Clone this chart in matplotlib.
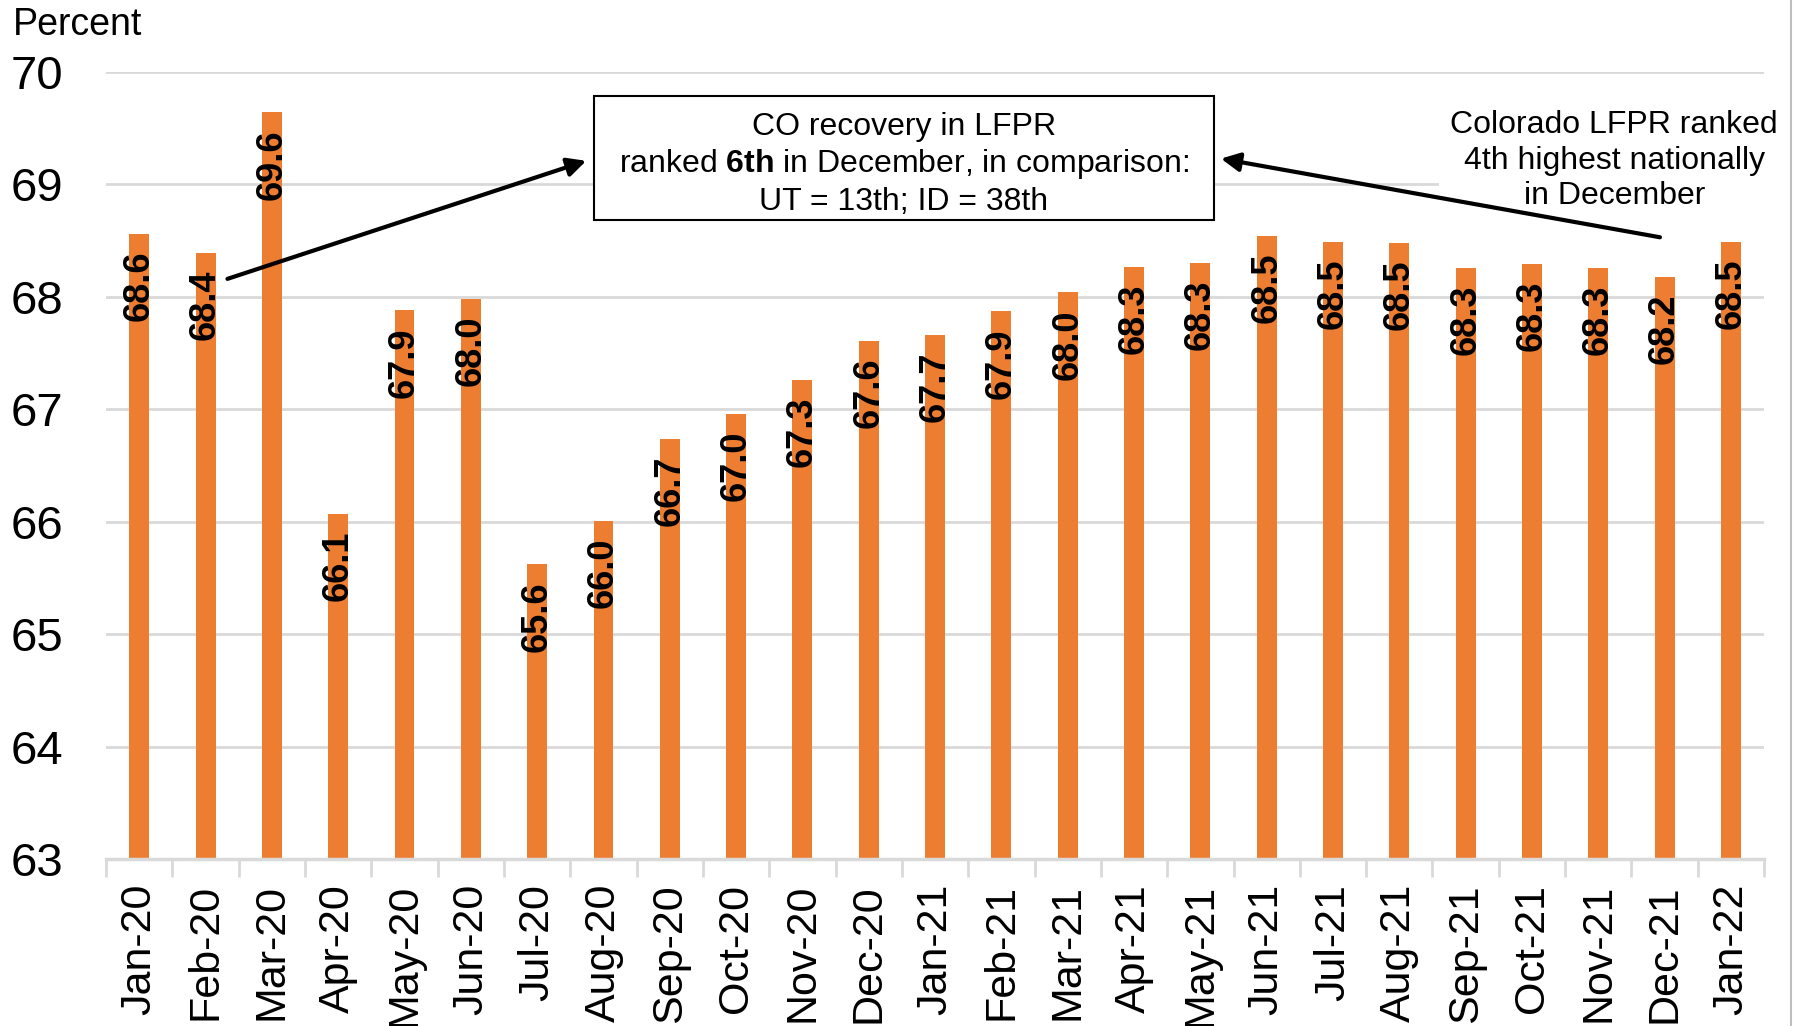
import matplotlib
matplotlib.use('Agg')
import matplotlib.pyplot as plt
from matplotlib.lines import Line2D
from matplotlib.patches import Rectangle

plt.rcParams['font.family'] = ['Liberation Sans', 'DejaVu Sans']
plt.rcParams['mathtext.fontset'] = 'custom'
plt.rcParams['mathtext.rm'] = 'Liberation Sans'
plt.rcParams['mathtext.bf'] = 'Liberation Sans:bold'

# monthly Colorado LFPR, percent
months = ['Jan-20', 'Feb-20', 'Mar-20', 'Apr-20', 'May-20', 'Jun-20', 'Jul-20',
          'Aug-20', 'Sep-20', 'Oct-20', 'Nov-20', 'Dec-20', 'Jan-21', 'Feb-21',
          'Mar-21', 'Apr-21', 'May-21', 'Jun-21', 'Jul-21', 'Aug-21', 'Sep-21',
          'Oct-21', 'Nov-21', 'Dec-21', 'Jan-22']
lfpr = [68.56, 68.39, 69.64, 66.07, 67.88, 67.98, 65.62, 66.01, 66.74, 66.96,
        67.26, 67.61, 67.66, 67.87, 68.04, 68.27, 68.30, 68.54, 68.49, 68.48,
        68.26, 68.29, 68.26, 68.18, 68.49]
yticks = [63, 64, 65, 66, 67, 68, 69, 70]

bar_color = '#ED7D31'
grid_color = '#D9D9D9'

fig = plt.figure(figsize=(18.01, 10.26), dpi=100)
ax = fig.add_axes([0.0589, 0.1628, 0.9206, 0.767])

x = list(range(len(months)))
ax.bar(x, lfpr, width=0.3, color=bar_color, zorder=2)
ax.set_ylim(63, 70)
ax.set_xlim(-0.5, len(months) - 0.5)

# value labels inside the bar ends
for xi, v in zip(x, lfpr):
    ax.annotate(f'{v:.1f}', xy=(xi, v), xytext=(0, -12), textcoords='offset points',
                rotation=90, ha='center', va='top', fontsize=26,
                fontweight='bold', color='black', zorder=3)

ax.set_yticks(yticks)
ax.set_yticklabels([str(t) for t in yticks], fontsize=34)
ax.tick_params(axis='y', length=0, pad=31)
ax.yaxis.grid(True, color=grid_color, linewidth=2, zorder=0)
ax.set_axisbelow(True)

ax.set_xticks(x)
ax.set_xticklabels(months, rotation=90, fontsize=31)
ax.tick_params(axis='x', which='major', length=0, pad=18)
ax.set_xticks([i - 0.5 for i in range(len(months) + 1)], minor=True)
ax.tick_params(axis='x', which='minor', length=13, width=2, color=grid_color)

for side in ['top', 'right', 'left']:
    ax.spines[side].set_visible(False)
ax.spines['bottom'].set_color(grid_color)
ax.spines['bottom'].set_linewidth(2.5)

fig.text(0.007, 0.976, 'Percent', fontsize=27, ha='left', va='center')

# annotation box
ax.add_patch(Rectangle((6.86, 68.68), 9.35, 1.11, facecolor='white',
                       edgecolor='black', linewidth=1.5, zorder=4))
ax.text(11.53, 69.18,
        'CO recovery in LFPR\nranked $\\mathbf{6th}$ in December, in comparison:\nUT = 13th; ID = 38th',
        ha='center', va='center', fontsize=23, linespacing=1.23, zorder=5)

ax.text(22.24, 69.21, 'Colorado LFPR ranked\n4th highest nationally\nin December',
        ha='center', va='center', fontsize=23, linespacing=1.24, zorder=5,
        bbox=dict(facecolor='white', edgecolor='none', pad=8))

arrow = dict(arrowstyle='-|>', color='black', lw=3, mutation_scale=28,
             shrinkA=0, shrinkB=0)
ax.annotate('', xy=(6.74, 69.21), xytext=(1.33, 68.16), arrowprops=arrow, zorder=6)
ax.annotate('', xy=(16.31, 69.23), xytext=(22.93, 68.53), arrowprops=arrow, zorder=6)

# right frame line
fig.add_artist(Line2D([0.9945, 0.9945], [0, 1], color='#BFBFBF', linewidth=1.5))

fig.savefig('out.png', dpi=100)
